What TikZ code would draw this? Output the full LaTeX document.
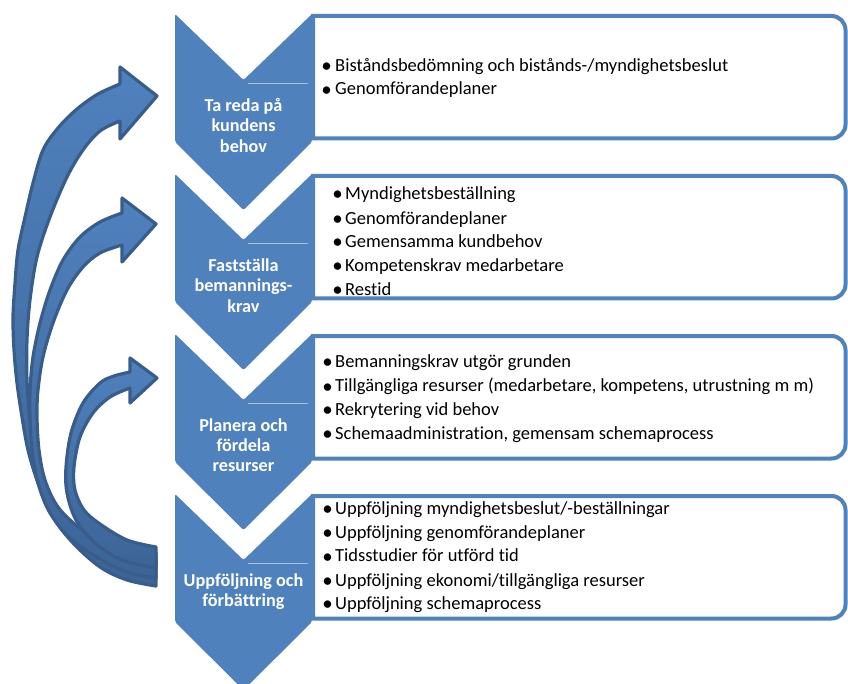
\documentclass[tikz,border=0pt]{standalone}
\usepackage{fontspec}
\setmainfont{Carlito}[Ligatures={NoCommon}]
\definecolor{stepblue}{HTML}{4F81BD}
\definecolor{rimblue}{HTML}{385D8A}
\definecolor{deepblue}{HTML}{3C6496}
\definecolor{hairblue}{HTML}{A9C0DE}

\begin{document}
\begin{tikzpicture}[x=1pt,y=1pt,
  chevron/.style={fill=stepblue, rounded corners=2pt},
  listbox/.style={draw=stepblue, line width=4pt, fill=white, line join=miter},
  stagelabel/.style={text=white, font=\fontsize{18.2}{20}\selectfont\bfseries, anchor=base, inner sep=0pt},
  itemtext/.style={font=\fontsize{18.5}{21}\selectfont, anchor=base west, inner sep=0pt},
  itemdot/.style={font=\fontsize{21}{22}\selectfont, anchor=base, inner sep=0pt, yshift=-1.2pt},
  loop/.style={draw=rimblue, line width=3.2pt, line join=round, top color=stepblue, bottom color=deepblue},
  seam/.style={draw=hairblue, line width=0.8pt}
]
\useasboundingbox (0,0) rectangle (848,-684);

% list panels, rounded on the right; the left side sits under the chevrons
\foreach \T in {14,174,334,494}{
  \draw[listbox] (313,{-\T-2}) [rounded corners=14pt] -- (845.5,{-\T-2}) -- (845.5,{-\T-124.5}) [sharp corners] -- (313,{-\T-124.5}) -- cycle;
}

% downward chevrons
\foreach \T in {14,174,334,494}{
  \path[chevron] (175,-\T) -- (243.5,{-\T-66}) -- (312,-\T) -- (312,{-\T-128})
     -- (243.5,{-\T-196}) -- (175,{-\T-128}) -- cycle;
  \draw[seam] (248,{-\T-69.3}) -- (308,{-\T-69.3});
}

% stage titles
\node[stagelabel] (s1a) at (243.5,-111.7) {Ta reda på};
\node[stagelabel] (s1b) at (243.5,-131.9) {kundens};
\node[stagelabel] (s1c) at (243.5,-152.2) {behov};
\node[stagelabel] (s2a) at (243.5,-271.7) {Fastställa};
\node[stagelabel] (s2b) at (243.5,-291.9) {bemannings-};
\node[stagelabel] (s2c) at (243.5,-312.2) {krav};
\node[stagelabel] (s3a) at (243.5,-431) {Planera och};
\node[stagelabel] (s3b) at (243.5,-451) {fördela};
\node[stagelabel] (s3c) at (243.5,-471.7) {resurser};
\node[stagelabel] (s4a) at (243.5,-586.7) {Uppföljning och};
\node[stagelabel] (s4b) at (243.5,-606.7) {förbättring};

% panel 1
\node[itemdot] (d11) at (326.5,-71.7) {•};
\node[itemtext] (t11) at (335,-71.7) {Biståndsbedömning och bistånds-/myndighetsbeslut};
\node[itemdot] (d12) at (326.5,-95) {•};
\node[itemtext] (t12) at (335,-95) {Genomförandeplaner};

% panel 2
\node[itemdot] (d21) at (337.5,-199.1) {•};
\node[itemtext] (t21) at (345,-199.1) {Myndighetsbeställning};
\node[itemdot] (d22) at (337.5,-224.1) {•};
\node[itemtext] (t22) at (345,-224.1) {Genomförandeplaner};
\node[itemdot] (d23) at (337.5,-247.5) {•};
\node[itemtext] (t23) at (345,-247.5) {Gemensamma kundbehov};
\node[itemdot] (d24) at (337.5,-271.8) {•};
\node[itemtext] (t24) at (345,-271.8) {Kompetenskrav medarbetare};
\node[itemdot] (d25) at (337.5,-295.1) {•};
\node[itemtext] (t25) at (345,-295.1) {Restid};

% panel 3
\node[itemdot] (d31) at (327.5,-367.5) {•};
\node[itemtext] (t31) at (335,-367.5) {Bemanningskrav utgör grunden};
\node[itemdot] (d32) at (327.5,-391.8) {•};
\node[itemtext] (t32) at (335,-391.8) {Tillgängliga resurser (medarbetare, kompetens, utrustning m m)};
\node[itemdot] (d33) at (327.5,-415.1) {•};
\node[itemtext] (t33) at (335,-415.1) {Rekrytering vid behov};
\node[itemdot] (d34) at (327.5,-439.1) {•};
\node[itemtext] (t34) at (335,-439.1) {Schemaadministration, gemensam schemaprocess};

% panel 4
\node[itemdot] (d41) at (327.5,-514.1) {•};
\node[itemtext] (t41) at (335,-514.1) {Uppföljning myndighetsbeslut/-beställningar};
\node[itemdot] (d42) at (327.5,-538.5) {•};
\node[itemtext] (t42) at (335,-538.5) {Uppföljning genomförandeplaner};
\node[itemdot] (d43) at (327.5,-561.8) {•};
\node[itemtext] (t43) at (335,-561.8) {Tidsstudier för utförd tid};
\node[itemdot] (d44) at (327.5,-586.5) {•};
\node[itemtext] (t44) at (335,-586.5) {Uppföljning ekonomi/tillgängliga resurser};
\node[itemdot] (d45) at (327.5,-609.1) {•};
\node[itemtext] (t45) at (335,-609.1) {Uppföljning schemaprocess};

% feedback loops: curved arrows from the last stage back up
\path[loop] (156,-586) -- plot[smooth,tension=0.55] coordinates {(156,-586) (127,-580) (100,-567) (73,-543) (53,-517) (38,-483) (28,-450) (22,-417) (17,-383) (14,-350) (13,-317) (15,-283) (18,-250) (25,-217) (33,-183) (43,-150) (58,-128) (77,-109) (98,-94) (120,-84)}
  -- (120,-67) -- (157,-96) -- (120,-139) -- (120,-121)
  -- plot[smooth,tension=0.55] coordinates {(120,-121) (100,-131) (83,-150) (67,-177) (50,-217) (37,-257) (30,-300) (27,-340) (27,-380) (30,-420) (36,-455) (46,-488) (62,-516) (85,-538) (115,-552) (156,-558)}
  -- cycle;

\path[loop] (156,-578) -- plot[smooth,tension=0.55] coordinates {(156,-578) (130,-573) (105,-562) (72,-540) (50,-513) (38,-483) (32,-450) (30,-417) (30,-390) (33,-357) (40,-323) (50,-290) (63,-260) (80,-237) (100,-222) (122,-213)}
  -- (122,-198) -- (156,-224) -- (122,-262) -- (122,-245)
  -- plot[smooth,tension=0.55] coordinates {(122,-245) (100,-253) (83,-267) (67,-290) (53,-323) (43,-357) (38,-390) (37,-417) (39,-450) (45,-480) (58,-507) (80,-528) (110,-543) (156,-552)}
  -- cycle;

\path[loop] (156,-568) -- plot[smooth,tension=0.55] coordinates {(156,-568) (122,-560) (95,-543) (76,-520) (67,-493) (66,-467) (71,-433) (83,-403) (100,-383) (114,-376) (130,-372)}
  -- (130,-358) -- (157,-378) -- (130,-403) -- (130,-388)
  -- plot[smooth,tension=0.55] coordinates {(130,-388) (110,-397) (93,-413) (80,-437) (74,-467) (75,-490) (84,-510) (100,-524) (127,-540) (156,-547)}
  -- cycle;

\end{tikzpicture}
\end{document}
